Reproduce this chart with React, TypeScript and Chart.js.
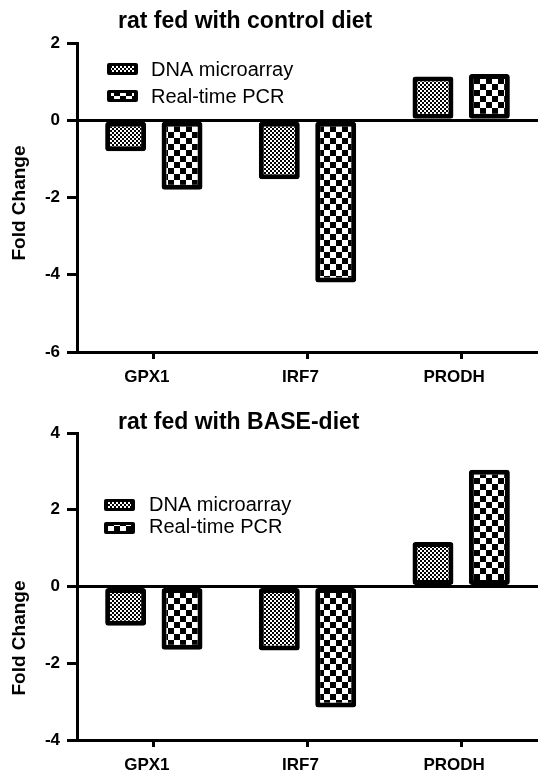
import React, { useEffect, useRef } from "react";
import { Chart, registerables } from "chart.js";

Chart.register(...registerables);

const categories = ["GPX1", "IRF7", "PRODH"];
const seriesNames = ["DNA microarray", "Real-time PCR"];

const controlMicroarray = [-0.8, -1.53, 1.13];
const controlPCR = [-1.8, -4.2, 1.2];
const controlTitle = "rat fed with control diet";
const controlRange = [-6, 2];

const baseMicroarray = [-1.02, -1.67, 1.16];
const basePCR = [-1.65, -3.15, 3.04];
const baseTitle = "rat fed with BASE-diet";
const baseRange = [-4, 4];

const yTitle = "Fold Change";
const FONT = "'Liberation Sans', Arial, sans-serif";

function makeChecker(cell: number): CanvasPattern | string {
  const c = document.createElement("canvas");
  c.width = cell * 2;
  c.height = cell * 2;
  const g = c.getContext("2d");
  if (!g) return "#888";
  g.fillStyle = "#fff";
  g.fillRect(0, 0, cell * 2, cell * 2);
  g.fillStyle = "#000";
  g.fillRect(0, 0, cell, cell);
  g.fillRect(cell, cell, cell, cell);
  return g.createPattern(c, "repeat") as CanvasPattern;
}

type PanelProps = {
  title: string;
  micro: number[];
  pcr: number[];
  range: number[];
  height: number;
  padTop: number;
  padBottom: number;
  titleBaseline: number;
  yTitleCenter: number;
  legendBoxY: number[];
  legendTextY: number[];
  legendBoxX: number;
  legendTextX: number;
};

function Panel(p: PanelProps) {
  const ref = useRef<HTMLCanvasElement | null>(null);
  useEffect(() => {
    if (!ref.current) return;
    const microPat = makeChecker(2);
    const pcrPat = makeChecker(6);
    const pats = [microPat, pcrPat];
    const decor = {
      id: "decor",
      afterDraw(chart: any) {
        const ctx = chart.ctx;
        ctx.save();
        ctx.fillStyle = "#000";
        ctx.font = `bold 23px ${FONT}`;
        ctx.textAlign = "left";
        ctx.textBaseline = "alphabetic";
        ctx.fillText(p.title, 118, p.titleBaseline);
        ctx.save();
        ctx.translate(20, p.yTitleCenter);
        ctx.rotate(-Math.PI / 2);
        ctx.font = `bold 19px ${FONT}`;
        ctx.textAlign = "center";
        ctx.textBaseline = "middle";
        ctx.fillText(yTitle, 0, 0);
        ctx.restore();
        for (let i = 0; i < 2; i++) {
          const bx = p.legendBoxX;
          const by = p.legendBoxY[i];
          ctx.fillStyle = "#000";
          ctx.beginPath();
          if (ctx.roundRect) ctx.roundRect(bx, by, 31, 12, 2);
          else ctx.rect(bx, by, 31, 12);
          ctx.fill();
          ctx.fillStyle = pats[i];
          ctx.fillRect(bx + 4, by + 3, 23, 6);
          ctx.fillStyle = "#000";
          ctx.font = `20px ${FONT}`;
          ctx.textAlign = "left";
          ctx.textBaseline = "middle";
          ctx.fillText(seriesNames[i], p.legendTextX, p.legendTextY[i]);
        }
        ctx.restore();
      },
    };
    const tickFont = { family: FONT, size: 17, weight: "bold" as const };
    const chart = new Chart(ref.current, {
      type: "bar",
      data: {
        labels: categories,
        datasets: [
          {
            label: seriesNames[0],
            data: p.micro,
            backgroundColor: microPat as any,
            borderColor: "#000",
            borderWidth: 5,
            borderSkipped: false,
            borderRadius: 3,
          },
          {
            label: seriesNames[1],
            data: p.pcr,
            backgroundColor: pcrPat as any,
            borderColor: "#000",
            borderWidth: 5,
            borderSkipped: false,
            borderRadius: 3,
          },
        ],
      },
      options: {
        animation: false,
        responsive: true,
        maintainAspectRatio: false,
        layout: { padding: { top: p.padTop, bottom: p.padBottom, left: 0, right: 0 } },
        datasets: { bar: { categoryPercentage: 0.734, barPercentage: 0.726 } },
        plugins: { legend: { display: false }, tooltip: { enabled: false }, title: { display: false } },
        scales: {
          x: {
            grid: {
              display: true,
              drawOnChartArea: false,
              offset: false,
              tickLength: 7,
              tickColor: "#000",
              tickWidth: 3,
            } as any,
            border: { display: true, color: "#000", width: 3 },
            ticks: { color: "#000", font: tickFont, padding: 8, maxRotation: 0, labelOffset: -7 },
            afterFit: (s: any) => {
              s.height = 36;
            },
          },
          y: {
            min: p.range[0],
            max: p.range[1],
            ticks: { stepSize: 2, color: "#000", font: tickFont, padding: 7 },
            grid: {
              color: (c: any) => (c.tick && c.tick.value === 0 ? "#000" : "rgba(0,0,0,0)"),
              lineWidth: 3,
              tickColor: "#000",
              tickWidth: 3,
              tickLength: 10,
              drawOnChartArea: true,
            } as any,
            border: { display: true, color: "#000", width: 3 },
            afterFit: (s: any) => {
              s.width = 77;
            },
          },
        },
      },
      plugins: [decor],
    });
    return () => chart.destroy();
  }, []);
  return (
    <div style={{ position: "relative", width: 538, height: p.height }}>
      <canvas ref={ref} />
    </div>
  );
}

export default function App() {
  return (
    <div style={{ position: "absolute", left: 0, top: 0, width: 538, height: 777, background: "#fff" }}>
      <Panel
        title={controlTitle}
        micro={controlMicroarray}
        pcr={controlPCR}
        range={controlRange}
        height={388}
        padTop={43}
        padBottom={0}
        titleBaseline={28}
        yTitleCenter={203}
        legendBoxX={107}
        legendBoxY={[63, 90]}
        legendTextX={151}
        legendTextY={[70, 97]}
      />
      <Panel
        title={baseTitle}
        micro={baseMicroarray}
        pcr={basePCR}
        range={baseRange}
        height={389}
        padTop={45}
        padBottom={1}
        titleBaseline={41}
        yTitleCenter={250}
        legendBoxX={104}
        legendBoxY={[111, 134]}
        legendTextX={149}
        legendTextY={[117, 139]}
      />
    </div>
  );
}
